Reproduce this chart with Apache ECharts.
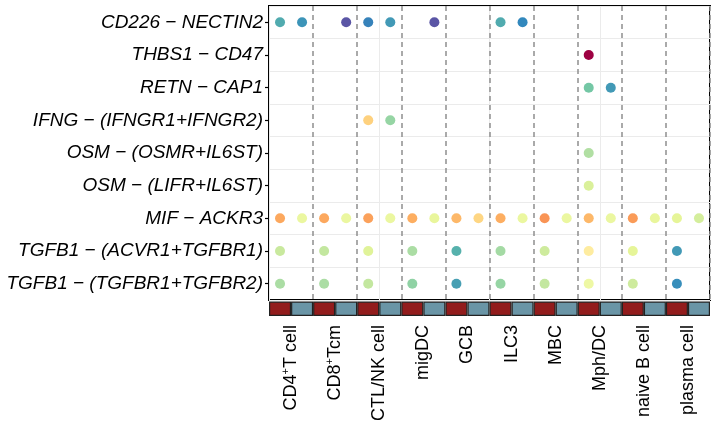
<!DOCTYPE html>
<html>
<head>
<meta charset="utf-8">
<script src="https://cdn.jsdelivr.net/npm/echarts@6/dist/echarts.min.js"></script>
<style>html,body{margin:0;padding:0;background:#fff;}#c{width:720px;height:439px;}</style>
</head>
<body>
<div id="c"></div>
<script>
// ---- data ----
var cellTypes = ['CD4+T cell', 'CD8+Tcm', 'CTL/NK cell', 'migDC', 'GCB', 'ILC3', 'MBC', 'Mph/DC', 'naive B cell', 'plasma cell'];
var conditions = ['A', 'B'];
var pairs = ['CD226 \u2212 NECTIN2', 'THBS1 \u2212 CD47', 'RETN \u2212 CAP1', 'IFNG \u2212 (IFNGR1+IFNGR2)', 'OSM \u2212 (OSMR+IL6ST)', 'OSM \u2212 (LIFR+IL6ST)', 'MIF \u2212 ACKR3', 'TGFB1 \u2212 (ACVR1+TGFBR1)', 'TGFB1 \u2212 (TGFBR1+TGFBR2)'];
var n = null;
var valCD226 = [0.16, 0.12, n, 0.01, 0.09, 0.13, n, 0.01, n, n, 0.16, 0.10, n, n, n, n, n, n, n, n];
var valTHBS1 = [n, n, n, n, n, n, n, n, n, n, n, n, n, n, 1.0, n, n, n, n, n];
var valRETN = [n, n, n, n, n, n, n, n, n, n, n, n, n, n, 0.22, 0.13, n, n, n, n];
var valIFNG = [n, n, n, n, 0.63, 0.27, n, n, n, n, n, n, n, n, n, n, n, n, n, n];
var valOSMR = [n, n, n, n, n, n, n, n, n, n, n, n, n, n, 0.31, n, n, n, n, n];
var valLIFR = [n, n, n, n, n, n, n, n, n, n, n, n, n, n, 0.38, n, n, n, n, n];
var valMIF = [0.71, 0.42, 0.71, 0.42, 0.72, 0.42, 0.70, 0.41, 0.68, 0.62, 0.70, 0.42, 0.74, 0.42, 0.68, 0.42, 0.73, 0.41, 0.40, 0.37];
var valACVR = [0.35, n, 0.34, n, 0.39, n, 0.30, n, 0.17, n, 0.29, n, 0.36, n, 0.56, n, 0.40, n, 0.13, n];
var valTGFBR = [0.30, n, 0.30, n, 0.34, n, 0.26, n, 0.14, n, 0.27, n, 0.34, n, 0.43, n, 0.36, n, 0.11, n];
var rowValues = [valCD226, valTHBS1, valRETN, valIFNG, valOSMR, valLIFR, valMIF, valACVR, valTGFBR];

// ---- build ----
var columns = [];
cellTypes.forEach(function (ct) { conditions.forEach(function (cd) { columns.push(ct + '|' + cd); }); });
var points = [];
rowValues.forEach(function (vals, r) {
  vals.forEach(function (v, c) { if (v !== null) points.push([c, r, v]); });
});
var stripData = columns.map(function (col, i) { return { value: 1, cond: i % conditions.length }; });
var condColors = ['#921c1c', '#6a95a6'];
var spectralRev = ['#5E4FA2', '#3288BD', '#66C2A5', '#ABDDA4', '#E6F598', '#FFFFBF', '#FEE08B', '#FDAE61', '#F46D43', '#D53E4F', '#9E0142'];
var FONT = '"Liberation Sans", Arial, sans-serif';

var chart = echarts.init(document.getElementById('c'), null, { renderer: 'canvas' });
chart.setOption({
  animation: false,
  backgroundColor: '#fff',
  grid: [
    { left: 269, right: 10, top: 6, height: 294, show: true, borderColor: '#000', borderWidth: 2, backgroundColor: 'transparent' },
    { left: 269, right: 10, top: 301.5, height: 14.5 }
  ],
  xAxis: [
    { type: 'category', gridIndex: 0, data: columns, boundaryGap: true,
      axisLine: { show: false }, axisTick: { show: false }, axisLabel: { show: false },
      splitLine: { show: true, lineStyle: { color: '#ebebeb', width: 1 } } },
    { type: 'category', gridIndex: 0, data: cellTypes, position: 'top', boundaryGap: true,
      axisLine: { show: false }, axisTick: { show: false }, axisLabel: { show: false },
      splitLine: { show: true, interval: function (i) { return i !== 0; }, lineStyle: { color: '#8f8f8f', width: 1.5, type: [5, 4] } } },
    { type: 'category', gridIndex: 1, data: columns, boundaryGap: true,
      axisLine: { show: false }, axisTick: { show: false }, axisLabel: { show: false }, splitLine: { show: false } },
    { type: 'category', gridIndex: 1, data: cellTypes, position: 'bottom', boundaryGap: true,
      axisLine: { show: false }, axisTick: { show: false }, splitLine: { show: false },
      axisLabel: { show: true, interval: 0, rotate: 90, margin: 9, fontSize: 18, color: '#000', fontFamily: FONT,
        formatter: function (v) { return v.replace(/^(CD\d)\+(.*)$/, '{n|$1}{s|+}{n|$2}'); },
        rich: { n: { fontSize: 18, fontFamily: FONT, color: '#000', lineHeight: 21 },
                s: { fontSize: 11, fontFamily: FONT, color: '#000', lineHeight: 21, verticalAlign: 'top' } } } }
  ],
  yAxis: [
    { type: 'category', gridIndex: 0, data: pairs, inverse: true, boundaryGap: true,
      axisLine: { show: false },
      axisTick: { show: true, alignWithLabel: true, length: 4, lineStyle: { color: '#000', width: 1.2 } },
      axisLabel: { show: true, margin: 6, fontSize: 19, fontStyle: 'italic', color: '#000', fontFamily: FONT },
      splitLine: { show: true, lineStyle: { color: '#ebebeb', width: 1 } } },
    { type: 'value', gridIndex: 1, min: 0, max: 1, show: false }
  ],
  visualMap: { show: false, seriesIndex: 0, dimension: 2, min: 0, max: 1, inRange: { color: spectralRev } },
  series: [
    { type: 'scatter', xAxisIndex: 0, yAxisIndex: 0, data: points, symbolSize: 10, z: 5, itemStyle: { opacity: 1 } },
    { type: 'bar', xAxisIndex: 2, yAxisIndex: 1, data: stripData, barWidth: '100%', barCategoryGap: 0,
      itemStyle: { color: function (p) { return condColors[p.data.cond]; }, borderColor: '#222', borderWidth: 1.2 } }
  ]
});
</script>
</body>
</html>
